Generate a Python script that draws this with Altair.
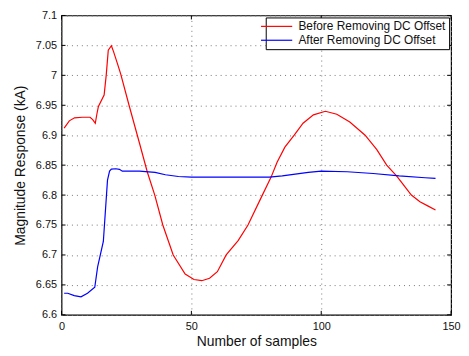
import altair as alt
import pandas as pd

# ---- data ----
before_x = [1, 3, 5, 8, 11, 12, 13, 13.6, 14.2, 16.4, 17.2, 18, 19.2, 20, 21.5, 22.8,
            26, 30, 33, 35.9, 39, 43, 47.6, 51, 54, 57, 60, 63.4, 68, 71.8, 77, 80.7,
            83, 86, 89.6, 93, 97, 101.6, 106, 111, 116.9, 121.4, 125.2, 129, 131.3,
            134.7, 138, 141, 144]
before_y = [6.912, 6.924, 6.929, 6.930, 6.930, 6.926, 6.920, 6.935, 6.948, 6.967, 7.000,
            7.042, 7.0495, 7.040, 7.020, 7.002, 6.950, 6.887, 6.839, 6.800, 6.750, 6.700,
            6.668, 6.659, 6.657, 6.661, 6.672, 6.700, 6.724, 6.750, 6.797, 6.830,
            6.855, 6.880, 6.900, 6.920, 6.934, 6.940, 6.935, 6.922, 6.900, 6.876, 6.850,
            6.832, 6.819, 6.800, 6.789, 6.782, 6.775]

after_x = [1, 2.4, 4.9, 7.5, 10, 12.8, 13.9, 16.1, 17.7, 18.5, 19.2, 20.9, 22.3, 23.4,
           30, 36, 40, 45, 50, 60, 70, 80, 85, 90, 95, 100, 110, 120, 130, 140, 144]
after_y = [6.636, 6.636, 6.632, 6.630, 6.636, 6.646, 6.680, 6.7225, 6.825, 6.840, 6.8435,
           6.844, 6.843, 6.840, 6.840, 6.838, 6.834, 6.831, 6.830, 6.830, 6.830, 6.830,
           6.832, 6.835, 6.838, 6.840, 6.839, 6.836, 6.832, 6.829, 6.828]

series_names = ["Before Removing DC Offset", "After Removing DC Offset"]
series_colors = ["#ff0000", "#0000ff"]

x_ticks = [0, 50, 100, 150]
y_ticks = [6.6, 6.65, 6.7, 6.75, 6.8, 6.85, 6.9, 6.95, 7.0, 7.05, 7.1]

W, H = 393, 302
FONT = "Liberation Sans"

df_before = pd.DataFrame({"x": before_x, "y": before_y, "s": series_names[0]})
df_after = pd.DataFrame({"x": after_x, "y": after_y, "s": series_names[1]})
df_xt = pd.DataFrame({"x": x_ticks})
df_yt = pd.DataFrame({"y": y_ticks})

xscale = alt.Scale(domain=[0, 150], nice=False, zero=False)
yscale = alt.Scale(domain=[6.6, 7.1], nice=False, zero=False)

xaxis = alt.Axis(values=x_ticks, title="Number of samples", grid=True, ticks=False,
                 tickSize=0, domain=False, labelPadding=6, titlePadding=3,
                 labelFlush=False, labelFontSize=11, titleFontSize=14,
                 labelColor="#111", titleColor="#111",
                 titleFontWeight="normal", labelFont=FONT, titleFont=FONT,
                 gridDash=[1, 4], gridColor="#777", gridWidth=1)
yaxis = alt.Axis(values=y_ticks, format=".2~f", title="Magnitude Response (kA)",
                 grid=True, ticks=False, tickSize=0, domain=False, labelPadding=5,
                 labelFlush=False, titlePadding=8, labelFontSize=11, titleFontSize=14,
                 labelColor="#111", titleColor="#111", titleFontWeight="normal",
                 labelFont=FONT, titleFont=FONT, gridDash=[1, 4], gridColor="#777",
                 gridWidth=1)

color = alt.Color("s:N", scale=alt.Scale(domain=series_names, range=series_colors),
                  legend=alt.Legend(title=None, orient="none", legendX=206, legendY=2,
                                    symbolType="M-3,0H3", symbolSize=110,
                                    symbolOffset=2, symbolStrokeWidth=1.2,
                                    labelFontSize=12, labelFont=FONT, labelColor="#111",
                                    labelOffset=16, padding=3, rowPadding=2,
                                    strokeColor="black", fillColor="white",
                                    cornerRadius=0))

X = alt.X("x:Q", scale=xscale, axis=xaxis)
Y = alt.Y("y:Q", scale=yscale, axis=yaxis)

line_before = alt.Chart(df_before).mark_line(strokeWidth=1.2).encode(x=X, y=Y, color=color)
line_after = alt.Chart(df_after).mark_line(strokeWidth=1.2).encode(x=X, y=Y, color=color)

tick_b = alt.Chart(df_xt).mark_rule(color="black", strokeWidth=1).encode(
    x=X, y=alt.value(H), y2=alt.value(H - 4))
tick_t = alt.Chart(df_xt).mark_rule(color="black", strokeWidth=1).encode(
    x=X, y=alt.value(0), y2=alt.value(4))
tick_l = alt.Chart(df_yt).mark_rule(color="black", strokeWidth=1).encode(
    y=Y, x=alt.value(0), x2=alt.value(4))
tick_r = alt.Chart(df_yt).mark_rule(color="black", strokeWidth=1).encode(
    y=Y, x=alt.value(W), x2=alt.value(W - 4))

chart = alt.layer(line_before, line_after, tick_b, tick_t, tick_l, tick_r).properties(
    width=W, height=H,
    autosize=alt.AutoSizeParams(type="none"),
    padding={"left": 54, "top": 6, "right": 10, "bottom": 40},
    background="white",
).configure_view(stroke="black", strokeWidth=1.2)

chart.save("out.html", embed_options={"renderer": "svg", "actions": False})
